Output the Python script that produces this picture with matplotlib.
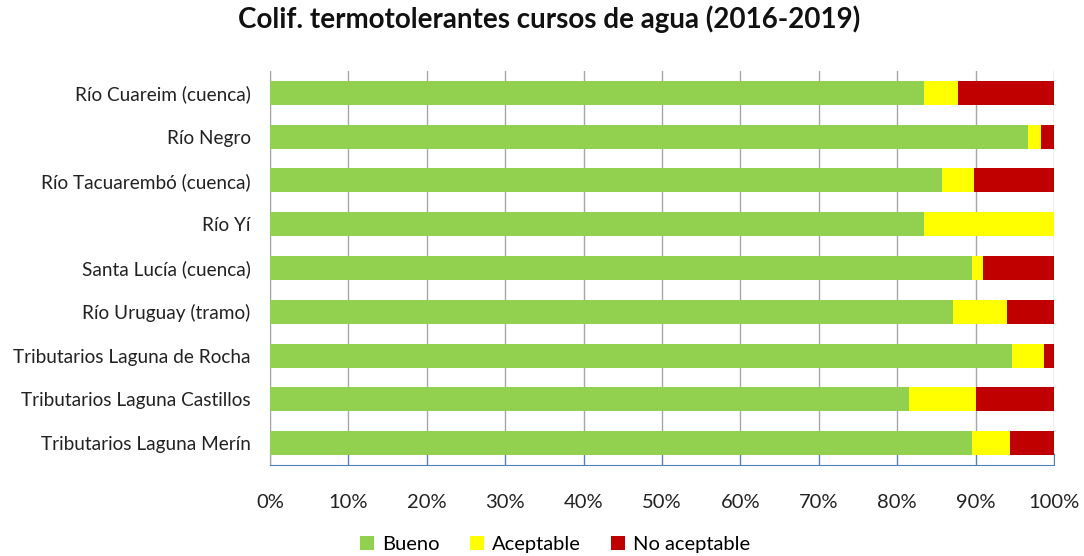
import matplotlib
matplotlib.use("Agg")
import matplotlib.pyplot as plt
import numpy as np

# data (percent of samples)
cursos = ['Río Cuareim (cuenca)', 'Río Negro', 'Río Tacuarembó (cuenca)', 'Río Yí',
          'Santa Lucía (cuenca)', 'Río Uruguay (tramo)', 'Tributarios Laguna de Rocha',
          'Tributarios Laguna Castillos', 'Tributarios Laguna Merín']
bueno = [83.4, 96.7, 85.7, 83.4, 89.5, 87.1, 94.7, 81.5, 89.6]
aceptable = [4.4, 1.7, 4.1, 16.6, 1.4, 6.9, 4.0, 8.5, 4.8]
no_aceptable = [12.2, 1.6, 10.2, 0.0, 9.1, 6.0, 1.3, 10.0, 5.6]

plt.rcParams['font.family'] = ['Lato', 'DejaVu Sans']

fig = plt.figure(figsize=(10.84, 5.56), dpi=100)
ax = fig.add_axes([270/1084, 1 - 465/556, 784/1084, 394/556])

y = np.arange(len(cursos))
b = np.array(bueno)
a = np.array(aceptable)
n = np.array(no_aceptable)
h = 0.55
ax.barh(y, b, height=h, color='#92D050', label='Bueno', zorder=3)
ax.barh(y, a, left=b, height=h, color='#FFFF00', label='Aceptable', zorder=3)
ax.barh(y, n, left=b + a, height=h, color='#C00000', label='No aceptable', zorder=3)

ax.set_xlim(0, 100)
ax.set_ylim(len(cursos) - 0.5, -0.5)
ax.set_yticks(y)
ax.set_yticklabels(cursos, fontsize=13.7, color='#222222')
ax.set_xticks(np.arange(0, 101, 10))
ax.set_xticklabels([f'{v}%' for v in range(0, 101, 10)], fontsize=14.5, color='#222222')
ax.tick_params(axis='y', length=0, pad=14)
ax.tick_params(axis='x', direction='in', length=9, color='#4F81BD', pad=21)
ax.grid(axis='x', color='#A6A6A6', linewidth=1.0, zorder=0)

for s in ['top', 'right']:
    ax.spines[s].set_visible(False)
ax.spines['left'].set_color('#A6A6A6')
ax.spines['bottom'].set_color('#4F81BD')

fig.suptitle('Colif. termotolerantes cursos de agua (2016-2019)', x=0.507, y=0.99,
             fontsize=20, fontweight='bold', color='#111111')

fig.legend(loc='lower center', bbox_to_anchor=(0.512, -0.027), ncol=3, frameon=False,
           fontsize=14.5, handlelength=0.7, handleheight=0.7, handletextpad=0.4,
           columnspacing=1.5)

fig.savefig('out.png', dpi=100)
